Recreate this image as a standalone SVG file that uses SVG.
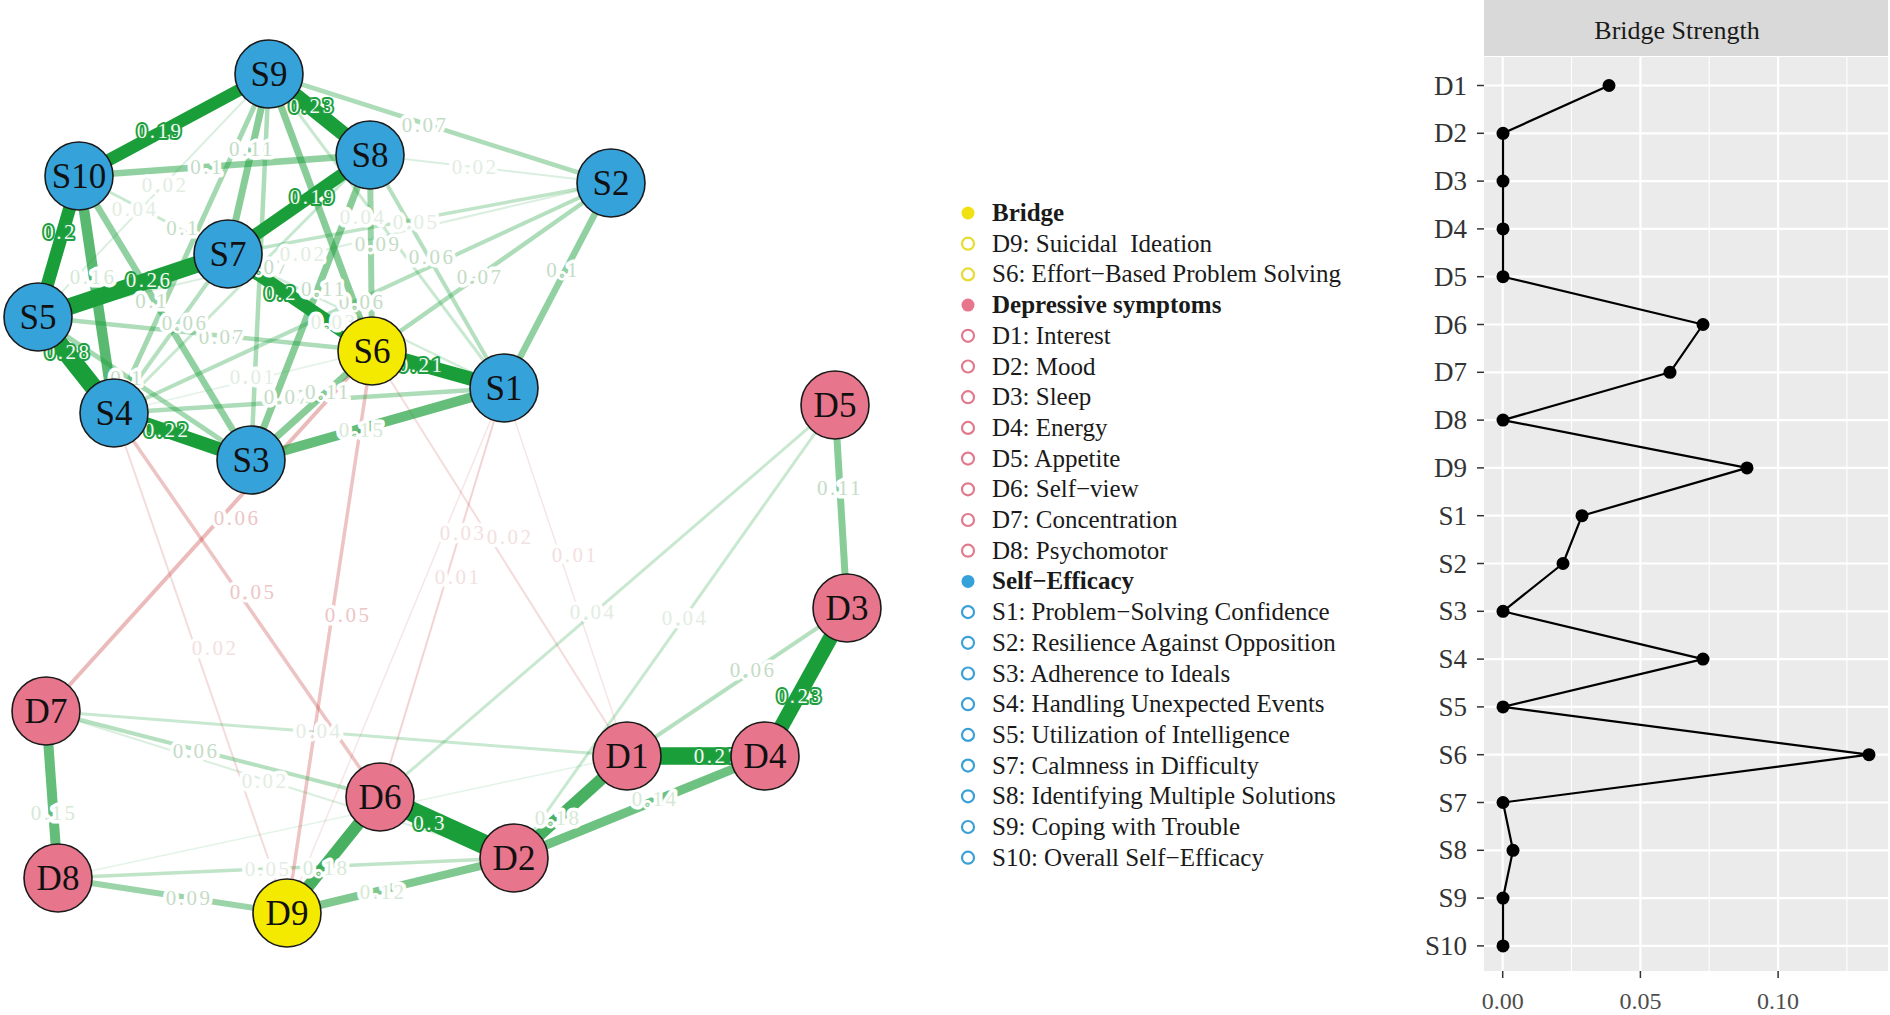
<svg xmlns="http://www.w3.org/2000/svg" width="1890" height="1015" viewBox="0 0 1890 1015">
<style>
.p{stroke:#1a9e3a;fill:none}
.n{stroke:#c02828;fill:none}
.t{font-family:"Liberation Serif","Times New Roman",serif;font-size:21px;text-anchor:middle;letter-spacing:2.5px;paint-order:stroke;stroke:#fff;stroke-width:7px;stroke-linejoin:round}
.ls{fill:#f4fbf4;stroke:#1f9f3f;stroke-width:4px}
.lm{fill:#d6e9d6}
.ll{fill:#c4dcc6}
.lf{fill:#e2ede2}
.lp{fill:#ecc6c6}
.lpf{fill:#f3e0e0}
.nd{stroke:#1a1a1a;stroke-width:1.6}
.sb{fill:#36a2da}
.db{fill:#e7758b}
.yb{fill:#f4ea00}
.nl{font-family:"Liberation Serif","Times New Roman",serif;font-size:35px;text-anchor:middle;fill:#111}
.lg{font-family:"Liberation Serif","Times New Roman",serif;font-size:25px;fill:#1a1a1a}
.lgb{font-weight:bold}
.ax{font-family:"Liberation Serif","Times New Roman",serif;font-size:27px;fill:#333;text-anchor:end}
.xt{font-family:"Liberation Serif","Times New Roman",serif;font-size:24px;fill:#4d4d4d;text-anchor:middle}
.gmaj{stroke:#fff;stroke-width:2.2}
.gmin{stroke:#fff;stroke-width:1.1}
.tk{stroke:#333;stroke-width:1.5}
</style>
<rect width="1890" height="1015" fill="#fff"/>

<g id="edges">
<line class="n" x1="504" y1="388" x2="287" y2="913" stroke-width="1.5" stroke-opacity="0.12"/>
<line class="n" x1="504" y1="388" x2="627" y2="756" stroke-width="1.5" stroke-opacity="0.12"/>
<line class="p" x1="114" y1="413" x2="372" y2="351" stroke-width="1.5" stroke-opacity="0.12"/>
<line class="p" x1="58" y1="878" x2="627" y2="756" stroke-width="1.5" stroke-opacity="0.12"/>
<line class="p" x1="269" y1="74" x2="38" y2="317" stroke-width="2" stroke-opacity="0.16"/>
<line class="p" x1="370" y1="155" x2="611" y2="183" stroke-width="2" stroke-opacity="0.16"/>
<line class="p" x1="611" y1="183" x2="38" y2="317" stroke-width="2" stroke-opacity="0.16"/>
<line class="p" x1="46" y1="711" x2="514" y2="858" stroke-width="2" stroke-opacity="0.16"/>
<line class="n" x1="114" y1="413" x2="287" y2="913" stroke-width="2" stroke-opacity="0.16"/>
<line class="n" x1="372" y1="351" x2="627" y2="756" stroke-width="2" stroke-opacity="0.16"/>
<line class="n" x1="504" y1="388" x2="380" y2="797" stroke-width="2" stroke-opacity="0.2"/>
<line class="p" x1="228" y1="254" x2="504" y2="388" stroke-width="2.5" stroke-opacity="0.2"/>
<line class="p" x1="269" y1="74" x2="504" y2="388" stroke-width="3" stroke-opacity="0.24"/>
<line class="p" x1="79" y1="176" x2="228" y2="254" stroke-width="3" stroke-opacity="0.24"/>
<line class="p" x1="370" y1="155" x2="114" y2="413" stroke-width="3" stroke-opacity="0.24"/>
<line class="p" x1="46" y1="711" x2="627" y2="756" stroke-width="3" stroke-opacity="0.24"/>
<line class="p" x1="835" y1="405" x2="380" y2="797" stroke-width="3" stroke-opacity="0.24"/>
<line class="p" x1="835" y1="405" x2="514" y2="858" stroke-width="3" stroke-opacity="0.24"/>
<line class="p" x1="611" y1="183" x2="228" y2="254" stroke-width="3.5" stroke-opacity="0.28"/>
<line class="p" x1="58" y1="878" x2="514" y2="858" stroke-width="3.5" stroke-opacity="0.28"/>
<line class="n" x1="114" y1="413" x2="380" y2="797" stroke-width="3.5" stroke-opacity="0.28"/>
<line class="n" x1="372" y1="351" x2="287" y2="913" stroke-width="3.5" stroke-opacity="0.28"/>
<line class="p" x1="370" y1="155" x2="504" y2="388" stroke-width="4" stroke-opacity="0.32"/>
<line class="p" x1="611" y1="183" x2="114" y2="413" stroke-width="4" stroke-opacity="0.32"/>
<line class="p" x1="228" y1="254" x2="114" y2="413" stroke-width="4" stroke-opacity="0.32"/>
<line class="p" x1="627" y1="756" x2="847" y2="608" stroke-width="4" stroke-opacity="0.32"/>
<line class="p" x1="46" y1="711" x2="380" y2="797" stroke-width="4" stroke-opacity="0.32"/>
<line class="n" x1="46" y1="711" x2="372" y2="351" stroke-width="4" stroke-opacity="0.32"/>
<line class="p" x1="269" y1="74" x2="611" y2="183" stroke-width="4.5" stroke-opacity="0.36"/>
<line class="p" x1="269" y1="74" x2="251" y2="460" stroke-width="4.5" stroke-opacity="0.36"/>
<line class="p" x1="38" y1="317" x2="372" y2="351" stroke-width="4.5" stroke-opacity="0.36"/>
<line class="p" x1="611" y1="183" x2="372" y2="351" stroke-width="4.5" stroke-opacity="0.36"/>
<line class="p" x1="114" y1="413" x2="504" y2="388" stroke-width="4.5" stroke-opacity="0.36"/>
<line class="p" x1="58" y1="878" x2="287" y2="913" stroke-width="6" stroke-opacity="0.44"/>
<line class="p" x1="370" y1="155" x2="372" y2="351" stroke-width="6" stroke-opacity="0.44"/>
<line class="p" x1="269" y1="74" x2="114" y2="413" stroke-width="5" stroke-opacity="0.4"/>
<line class="p" x1="38" y1="317" x2="251" y2="460" stroke-width="5" stroke-opacity="0.4"/>
<line class="p" x1="79" y1="176" x2="370" y2="155" stroke-width="6.5" stroke-opacity="0.48"/>
<line class="p" x1="79" y1="176" x2="251" y2="460" stroke-width="6.5" stroke-opacity="0.48"/>
<line class="p" x1="611" y1="183" x2="504" y2="388" stroke-width="6.5" stroke-opacity="0.48"/>
<line class="p" x1="269" y1="74" x2="228" y2="254" stroke-width="7" stroke-opacity="0.52"/>
<line class="p" x1="370" y1="155" x2="251" y2="460" stroke-width="7" stroke-opacity="0.52"/>
<line class="p" x1="251" y1="460" x2="372" y2="351" stroke-width="7" stroke-opacity="0.52"/>
<line class="p" x1="835" y1="405" x2="847" y2="608" stroke-width="7" stroke-opacity="0.52"/>
<line class="p" x1="269" y1="74" x2="372" y2="351" stroke-width="7" stroke-opacity="0.52"/>
<line class="p" x1="287" y1="913" x2="514" y2="858" stroke-width="8" stroke-opacity="0.56"/>
<line class="p" x1="514" y1="858" x2="765" y2="756" stroke-width="9" stroke-opacity="0.64"/>
<line class="p" x1="251" y1="460" x2="504" y2="388" stroke-width="10" stroke-opacity="0.68"/>
<line class="p" x1="46" y1="711" x2="58" y2="878" stroke-width="10" stroke-opacity="0.68"/>
<line class="p" x1="79" y1="176" x2="114" y2="413" stroke-width="10.5" stroke-opacity="0.72"/>
<line class="p" x1="627" y1="756" x2="514" y2="858" stroke-width="12" stroke-opacity="0.8"/>
<line class="p" x1="380" y1="797" x2="287" y2="913" stroke-width="12" stroke-opacity="0.8"/>
<line class="p" x1="269" y1="74" x2="79" y2="176" stroke-width="12.5"/>
<line class="p" x1="370" y1="155" x2="228" y2="254" stroke-width="12.5"/>
<line class="p" x1="79" y1="176" x2="38" y2="317" stroke-width="13"/>
<line class="p" x1="228" y1="254" x2="372" y2="351" stroke-width="13"/>
<line class="p" x1="372" y1="351" x2="504" y2="388" stroke-width="14"/>
<line class="p" x1="114" y1="413" x2="251" y2="460" stroke-width="14"/>
<line class="p" x1="269" y1="74" x2="370" y2="155" stroke-width="15"/>
<line class="p" x1="847" y1="608" x2="765" y2="756" stroke-width="15"/>
<line class="p" x1="38" y1="317" x2="228" y2="254" stroke-width="17"/>
<line class="p" x1="627" y1="756" x2="765" y2="756" stroke-width="17.5"/>
<line class="p" x1="38" y1="317" x2="114" y2="413" stroke-width="18"/>
<line class="p" x1="380" y1="797" x2="514" y2="858" stroke-width="20"/>
</g>

<g id="edge-labels">
<text class="t ll" x="266" y="274">0.07</text>
<text class="t ls" x="160" y="138">0.19</text>
<text class="t ls" x="312" y="113">0.23</text>
<text class="t ll" x="425" y="132">0.07</text>
<text class="t ll" x="252" y="156">0.11</text>
<text class="t ll" x="207" y="174">0.1</text>
<text class="t lf" x="165" y="192">0.02</text>
<text class="t lf" x="135" y="216">0.04</text>
<text class="t ll" x="183" y="235">0.1</text>
<text class="t ls" x="60" y="239">0.2</text>
<text class="t lm" x="93" y="284">0.16</text>
<text class="t ls" x="149" y="287">0.26</text>
<text class="t ls" x="313" y="204">0.19</text>
<text class="t ll" x="378" y="251">0.09</text>
<text class="t lf" x="363" y="224">0.04</text>
<text class="t lf" x="416" y="229">0.05</text>
<text class="t ll" x="432" y="264">0.06</text>
<text class="t ll" x="480" y="284">0.07</text>
<text class="t ll" x="563" y="277">0.1</text>
<text class="t lf" x="475" y="174">0.02</text>
<text class="t lf" x="303" y="261">0.02</text>
<text class="t lf" x="334" y="329">0.03</text>
<text class="t ll" x="362" y="309">0.06</text>
<text class="t ls" x="281" y="300">0.2</text>
<text class="t ll" x="324" y="296">0.11</text>
<text class="t ll" x="222" y="344">0.07</text>
<text class="t ll" x="152" y="308">0.1</text>
<text class="t ll" x="185" y="330">0.06</text>
<text class="t ls" x="68" y="359">0.28</text>
<text class="t ll" x="127" y="385">0.1</text>
<text class="t lf" x="253" y="384">0.01</text>
<text class="t ls" x="167" y="437">0.22</text>
<text class="t ll" x="287" y="404">0.07</text>
<text class="t ll" x="328" y="399">0.11</text>
<text class="t lm" x="362" y="437">0.15</text>
<text class="t ls" x="421" y="372">0.21</text>
<text class="t lp" x="237" y="525">0.06</text>
<text class="t lp" x="253" y="599">0.05</text>
<text class="t lp" x="348" y="622">0.05</text>
<text class="t lpf" x="215" y="655">0.02</text>
<text class="t lpf" x="463" y="540">0.03</text>
<text class="t lpf" x="510" y="544">0.02</text>
<text class="t lpf" x="458" y="584">0.01</text>
<text class="t lpf" x="575" y="562">0.01</text>
<text class="t lf" x="593" y="619">0.04</text>
<text class="t lf" x="685" y="625">0.04</text>
<text class="t ll" x="840" y="495">0.11</text>
<text class="t ll" x="753" y="677">0.06</text>
<text class="t ls" x="800" y="703">0.23</text>
<text class="t ls" x="717" y="763">0.27</text>
<text class="t lm" x="655" y="806">0.14</text>
<text class="t lm" x="558" y="825">0.18</text>
<text class="t ls" x="430" y="830">0.3</text>
<text class="t lf" x="319" y="738">0.04</text>
<text class="t ll" x="196" y="758">0.06</text>
<text class="t lf" x="265" y="788">0.02</text>
<text class="t lm" x="54" y="820">0.15</text>
<text class="t ll" x="189" y="905">0.09</text>
<text class="t lf" x="268" y="876">0.05</text>
<text class="t lm" x="326" y="875">0.18</text>
<text class="t lm" x="383" y="899">0.12</text>
</g>

<g id="node-S9"><circle class="nd sb" cx="269" cy="74" r="34"/><text class="nl" x="269" y="86">S9</text></g>
<g id="node-S8"><circle class="nd sb" cx="370" cy="155" r="34"/><text class="nl" x="370" y="167">S8</text></g>
<g id="node-S10"><circle class="nd sb" cx="79" cy="176" r="34"/><text class="nl" x="79" y="188">S10</text></g>
<g id="node-S2"><circle class="nd sb" cx="611" cy="183" r="34"/><text class="nl" x="611" y="195">S2</text></g>
<g id="node-S7"><circle class="nd sb" cx="228" cy="254" r="34"/><text class="nl" x="228" y="266">S7</text></g>
<g id="node-S5"><circle class="nd sb" cx="38" cy="317" r="34"/><text class="nl" x="38" y="329">S5</text></g>
<g id="node-S6"><circle class="nd yb" cx="372" cy="351" r="34"/><text class="nl" x="372" y="363">S6</text></g>
<g id="node-S1"><circle class="nd sb" cx="504" cy="388" r="34"/><text class="nl" x="504" y="400">S1</text></g>
<g id="node-S4"><circle class="nd sb" cx="114" cy="413" r="34"/><text class="nl" x="114" y="425">S4</text></g>
<g id="node-S3"><circle class="nd sb" cx="251" cy="460" r="34"/><text class="nl" x="251" y="472">S3</text></g>
<g id="node-D5"><circle class="nd db" cx="835" cy="405" r="34"/><text class="nl" x="835" y="417">D5</text></g>
<g id="node-D3"><circle class="nd db" cx="847" cy="608" r="34"/><text class="nl" x="847" y="620">D3</text></g>
<g id="node-D7"><circle class="nd db" cx="46" cy="711" r="34"/><text class="nl" x="46" y="723">D7</text></g>
<g id="node-D1"><circle class="nd db" cx="627" cy="756" r="34"/><text class="nl" x="627" y="768">D1</text></g>
<g id="node-D4"><circle class="nd db" cx="765" cy="756" r="34"/><text class="nl" x="765" y="768">D4</text></g>
<g id="node-D6"><circle class="nd db" cx="380" cy="797" r="34"/><text class="nl" x="380" y="809">D6</text></g>
<g id="node-D2"><circle class="nd db" cx="514" cy="858" r="34"/><text class="nl" x="514" y="870">D2</text></g>
<g id="node-D8"><circle class="nd db" cx="58" cy="878" r="34"/><text class="nl" x="58" y="890">D8</text></g>
<g id="node-D9"><circle class="nd yb" cx="287" cy="913" r="34"/><text class="nl" x="287" y="925">D9</text></g>

<g id="legend">
<circle cx="968" cy="213" r="6.5" fill="#f0e212"/>
<text class="lg lgb" x="992" y="221">Bridge</text>
<circle cx="968" cy="243.7" r="6" fill="none" stroke="#e6dc30" stroke-width="2.2"/>
<text class="lg" x="992" y="251.7">D9: Suicidal&#160; Ideation</text>
<circle cx="968" cy="274.4" r="6" fill="none" stroke="#e6dc30" stroke-width="2.2"/>
<text class="lg" x="992" y="282.4">S6: Effort−Based Problem Solving</text>
<circle cx="968" cy="305.1" r="6.5" fill="#e7758b"/>
<text class="lg lgb" x="992" y="313.1">Depressive symptoms</text>
<g fill="none" stroke="#e27a8e" stroke-width="2.2">
<circle cx="968" cy="335.8" r="6"/><circle cx="968" cy="366.5" r="6"/><circle cx="968" cy="397.2" r="6"/><circle cx="968" cy="427.9" r="6"/><circle cx="968" cy="458.6" r="6"/><circle cx="968" cy="489.3" r="6"/><circle cx="968" cy="520" r="6"/><circle cx="968" cy="550.7" r="6"/>
</g>
<text class="lg" x="992" y="343.8">D1: Interest</text>
<text class="lg" x="992" y="374.5">D2: Mood</text>
<text class="lg" x="992" y="405.2">D3: Sleep</text>
<text class="lg" x="992" y="435.9">D4: Energy</text>
<text class="lg" x="992" y="466.6">D5: Appetite</text>
<text class="lg" x="992" y="497.3">D6: Self−view</text>
<text class="lg" x="992" y="528">D7: Concentration</text>
<text class="lg" x="992" y="558.7">D8: Psychomotor</text>
<circle cx="968" cy="581.4" r="6.5" fill="#36a2da"/>
<text class="lg lgb" x="992" y="589.4">Self−Efficacy</text>
<g fill="none" stroke="#3aa0d6" stroke-width="2.2">
<circle cx="968" cy="612.1" r="6"/><circle cx="968" cy="642.8" r="6"/><circle cx="968" cy="673.5" r="6"/><circle cx="968" cy="704.2" r="6"/><circle cx="968" cy="734.9" r="6"/><circle cx="968" cy="765.6" r="6"/><circle cx="968" cy="796.3" r="6"/><circle cx="968" cy="827" r="6"/><circle cx="968" cy="857.7" r="6"/>
</g>
<text class="lg" x="992" y="620.1">S1: Problem−Solving Confidence</text>
<text class="lg" x="992" y="650.8">S2: Resilience Against Opposition</text>
<text class="lg" x="992" y="681.5">S3: Adherence to Ideals</text>
<text class="lg" x="992" y="712.2">S4: Handling Unexpected Events</text>
<text class="lg" x="992" y="742.9">S5: Utilization of Intelligence</text>
<text class="lg" x="992" y="773.6">S7: Calmness in Difficulty</text>
<text class="lg" x="992" y="804.3">S8: Identifying Multiple Solutions</text>
<text class="lg" x="992" y="835">S9: Coping with Trouble</text>
<text class="lg" x="992" y="865.7">S10: Overall Self−Efficacy</text>
</g>

<g id="chart">
<rect x="1484" y="0" width="404" height="56" fill="#d9d9d9"/>
<text x="1677" y="39" font-family="Liberation Serif, Times New Roman, serif" font-size="26" fill="#1a1a1a" text-anchor="middle">Bridge Strength</text>
<rect x="1484" y="57" width="404" height="914" fill="#ebebeb"/>
<g>
<line class="gmin" x1="1571.5" y1="57" x2="1571.5" y2="971"/>
<line class="gmin" x1="1709.2" y1="57" x2="1709.2" y2="971"/>
<line class="gmin" x1="1846.9" y1="57" x2="1846.9" y2="971"/>
<line class="gmaj" x1="1502.7" y1="57" x2="1502.7" y2="971"/>
<line class="gmaj" x1="1640.4" y1="57" x2="1640.4" y2="971"/>
<line class="gmaj" x1="1778.1" y1="57" x2="1778.1" y2="971"/>
<line class="gmaj" x1="1484" y1="85.5" x2="1888" y2="85.5"/>
<line class="gmaj" x1="1484" y1="133.3" x2="1888" y2="133.3"/>
<line class="gmaj" x1="1484" y1="181.1" x2="1888" y2="181.1"/>
<line class="gmaj" x1="1484" y1="228.9" x2="1888" y2="228.9"/>
<line class="gmaj" x1="1484" y1="276.7" x2="1888" y2="276.7"/>
<line class="gmaj" x1="1484" y1="324.5" x2="1888" y2="324.5"/>
<line class="gmaj" x1="1484" y1="372.3" x2="1888" y2="372.3"/>
<line class="gmaj" x1="1484" y1="420.1" x2="1888" y2="420.1"/>
<line class="gmaj" x1="1484" y1="467.9" x2="1888" y2="467.9"/>
<line class="gmaj" x1="1484" y1="515.7" x2="1888" y2="515.7"/>
<line class="gmaj" x1="1484" y1="563.5" x2="1888" y2="563.5"/>
<line class="gmaj" x1="1484" y1="611.3" x2="1888" y2="611.3"/>
<line class="gmaj" x1="1484" y1="659.1" x2="1888" y2="659.1"/>
<line class="gmaj" x1="1484" y1="706.9" x2="1888" y2="706.9"/>
<line class="gmaj" x1="1484" y1="754.7" x2="1888" y2="754.7"/>
<line class="gmaj" x1="1484" y1="802.5" x2="1888" y2="802.5"/>
<line class="gmaj" x1="1484" y1="850.3" x2="1888" y2="850.3"/>
<line class="gmaj" x1="1484" y1="898.1" x2="1888" y2="898.1"/>
<line class="gmaj" x1="1484" y1="945.9" x2="1888" y2="945.9"/>
</g>
<g>
<line class="tk" x1="1477" y1="85.5" x2="1484" y2="85.5"/>
<line class="tk" x1="1477" y1="133.3" x2="1484" y2="133.3"/>
<line class="tk" x1="1477" y1="181.1" x2="1484" y2="181.1"/>
<line class="tk" x1="1477" y1="228.9" x2="1484" y2="228.9"/>
<line class="tk" x1="1477" y1="276.7" x2="1484" y2="276.7"/>
<line class="tk" x1="1477" y1="324.5" x2="1484" y2="324.5"/>
<line class="tk" x1="1477" y1="372.3" x2="1484" y2="372.3"/>
<line class="tk" x1="1477" y1="420.1" x2="1484" y2="420.1"/>
<line class="tk" x1="1477" y1="467.9" x2="1484" y2="467.9"/>
<line class="tk" x1="1477" y1="515.7" x2="1484" y2="515.7"/>
<line class="tk" x1="1477" y1="563.5" x2="1484" y2="563.5"/>
<line class="tk" x1="1477" y1="611.3" x2="1484" y2="611.3"/>
<line class="tk" x1="1477" y1="659.1" x2="1484" y2="659.1"/>
<line class="tk" x1="1477" y1="706.9" x2="1484" y2="706.9"/>
<line class="tk" x1="1477" y1="754.7" x2="1484" y2="754.7"/>
<line class="tk" x1="1477" y1="802.5" x2="1484" y2="802.5"/>
<line class="tk" x1="1477" y1="850.3" x2="1484" y2="850.3"/>
<line class="tk" x1="1477" y1="898.1" x2="1484" y2="898.1"/>
<line class="tk" x1="1477" y1="945.9" x2="1484" y2="945.9"/>
<line class="tk" x1="1502.7" y1="971" x2="1502.7" y2="978"/>
<line class="tk" x1="1640.4" y1="971" x2="1640.4" y2="978"/>
<line class="tk" x1="1778.1" y1="971" x2="1778.1" y2="978"/>
</g>
<g>
<text class="ax" x="1467" y="94.5">D1</text>
<text class="ax" x="1467" y="142.3">D2</text>
<text class="ax" x="1467" y="190.1">D3</text>
<text class="ax" x="1467" y="237.9">D4</text>
<text class="ax" x="1467" y="285.7">D5</text>
<text class="ax" x="1467" y="333.5">D6</text>
<text class="ax" x="1467" y="381.3">D7</text>
<text class="ax" x="1467" y="429.1">D8</text>
<text class="ax" x="1467" y="476.9">D9</text>
<text class="ax" x="1467" y="524.7">S1</text>
<text class="ax" x="1467" y="572.5">S2</text>
<text class="ax" x="1467" y="620.3">S3</text>
<text class="ax" x="1467" y="668.1">S4</text>
<text class="ax" x="1467" y="715.9">S5</text>
<text class="ax" x="1467" y="763.7">S6</text>
<text class="ax" x="1467" y="811.5">S7</text>
<text class="ax" x="1467" y="859.3">S8</text>
<text class="ax" x="1467" y="907.1">S9</text>
<text class="ax" x="1467" y="954.9">S10</text>
<text class="xt" x="1502.7" y="1009">0.00</text>
<text class="xt" x="1640.4" y="1009">0.05</text>
<text class="xt" x="1778.1" y="1009">0.10</text>
</g>
<polyline fill="none" stroke="#000" stroke-width="2.2" stroke-linejoin="round" points="1609,85.5 1503,133.3 1503,181.1 1503,228.9 1503,276.7 1703,324.5 1670,372.3 1503,420.1 1747,467.9 1582,515.7 1563,563.5 1503,611.3 1703,659.1 1503,706.9 1869,754.7 1503,802.5 1513,850.3 1503,898.1 1503,945.9"/>
<g fill="#000">
<circle cx="1609" cy="85.5" r="6.5"/><circle cx="1503" cy="133.3" r="6.5"/><circle cx="1503" cy="181.1" r="6.5"/><circle cx="1503" cy="228.9" r="6.5"/><circle cx="1503" cy="276.7" r="6.5"/><circle cx="1703" cy="324.5" r="6.5"/><circle cx="1670" cy="372.3" r="6.5"/><circle cx="1503" cy="420.1" r="6.5"/><circle cx="1747" cy="467.9" r="6.5"/><circle cx="1582" cy="515.7" r="6.5"/><circle cx="1563" cy="563.5" r="6.5"/><circle cx="1503" cy="611.3" r="6.5"/><circle cx="1703" cy="659.1" r="6.5"/><circle cx="1503" cy="706.9" r="6.5"/><circle cx="1869" cy="754.7" r="6.5"/><circle cx="1503" cy="802.5" r="6.5"/><circle cx="1513" cy="850.3" r="6.5"/><circle cx="1503" cy="898.1" r="6.5"/><circle cx="1503" cy="945.9" r="6.5"/>
</g>
</g>
</svg>
